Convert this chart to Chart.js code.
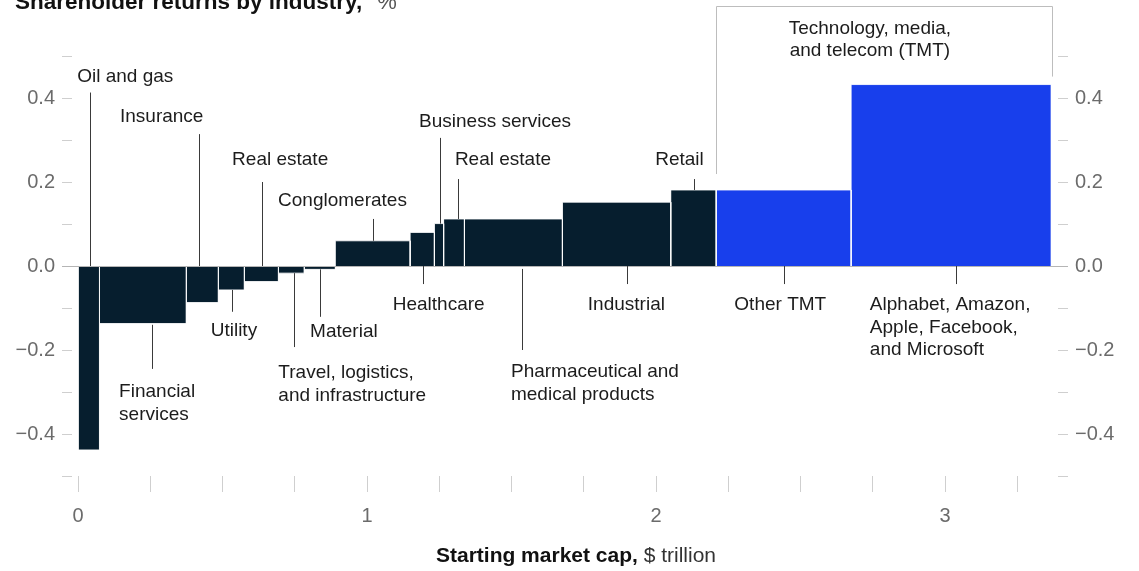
<!DOCTYPE html>
<html><head><meta charset="utf-8">
<script src="https://cdn.jsdelivr.net/npm/chart.js@4/dist/chart.umd.min.js"></script>
<style>html,body{margin:0;padding:0;background:#fff;overflow:hidden}</style>
</head><body>
<canvas id="c" width="1139" height="571" style="display:block;width:1139px;height:571px"></canvas>
<script>
// ---- data ----
const industries = ["Oil and gas","Financial services","Insurance","Utility","Real estate","Travel, logistics, and infrastructure","Material","Conglomerates","Healthcare","Business services","Real estate","Pharmaceutical and medical products","Industrial","Retail","Other TMT","Alphabet, Amazon, Apple, Facebook, and Microsoft"];
const marketCap = [0.074,0.300,0.111,0.090,0.118,0.089,0.108,0.259,0.084,0.032,0.072,0.339,0.375,0.157,0.467,0.693];
const shareholderReturn = [-0.438,-0.137,-0.087,-0.057,-0.037,-0.017,-0.008,0.060,0.080,0.101,0.112,0.112,0.152,0.181,0.181,0.432];
const group = ["other","other","other","other","other","other","other","other","other","other","other","other","other","other","tmt","tmt"];
const yTickValues = [-0.4,-0.2,0,0.2,0.4];
const xTickValues = [0,1,2,3];
const groupLabel = ["Technology, media,","and telecom (TMT)"];

// ---- styles / layout (not data) ----
const COLORS = {other:"#061e2e", tmt:"#183fec"};
const FONT = "'Liberation Sans', Arial, sans-serif";
const labelLayout = [
  {i:0,  lines:["Oil and gas"], x:-0.003, y:0.45,  lead:[0.041,0.413,0]},
  {i:2,  lines:["Insurance"], x:0.145, y:0.355, lead:[0.42,0.314,0]},
  {i:4,  lines:["Real estate"], x:0.533, y:0.252, lead:[0.636,0.200,0]},
  {i:7,  lines:["Conglomerates"], x:0.692, y:0.155, lead:[1.021,0.112,0.060]},
  {i:9,  lines:["Business services"], x:1.18, y:0.343, lead:[1.254,0.305,0.101]},
  {i:10, lines:["Real estate"], x:1.304, y:0.252, lead:[1.315,0.207,0.112]},
  {i:13, lines:["Retail"], x:1.997, y:0.252, lead:[2.131,0.207,0.181]},
  {i:8,  lines:["Healthcare"], x:1.089, y:-0.093, lead:[1.193,-0.043,0]},
  {i:11, lines:["Pharmaceutical and","medical products"], x:1.498, y:-0.252, lead:[1.536,-0.200,-0.007]},
  {i:12, lines:["Industrial"], x:1.764, y:-0.093, lead:[1.9,-0.043,0]},
  {i:14, lines:["Other TMT"], x:2.271, y:-0.093, lead:[2.442,-0.043,0]},
  {i:15, lines:["Alphabet, Amazon,","Apple, Facebook,","and Microsoft"], x:2.74, y:-0.093, lead:[3.038,-0.043,0]},
  {i:1,  lines:["Financial","services"], x:0.142, y:-0.300, lead:[0.255,-0.245,-0.140]},
  {i:3,  lines:["Utility"], x:0.459, y:-0.154, lead:[0.533,-0.109,-0.057]},
  {i:5,  lines:["Travel, logistics,","and infrastructure"], x:0.693, y:-0.255, lead:[0.748,-0.193,-0.017]},
  {i:6,  lines:["Material"], x:0.803, y:-0.156, lead:[0.838,-0.121,-0.008]}
];
const bracket = {x0:2.209, y0:0.219, x1:3.369, y1:0.451, top:0.62, textX:2.74, textY:0.566};

// ---- build datasets ----
let start = 0;
const datasets = marketCap.map((w, i) => {
  const x0 = start, x1 = start + w; start = x1;
  const v = shareholderReturn[i];
  return {
    label: industries[i],
    data: [{x:x0,y:0},{x:x0,y:v},{x:x1,y:v},{x:x1,y:0}],
    showLine: true, fill: 'origin', tension: 0,
    backgroundColor: COLORS[group[i]], borderColor: 'rgba(255,255,255,0.85)', borderWidth: 1,
    pointRadius: 0, pointHoverRadius: 0
  };
});

const fmt = v => (v < 0 ? "\u2212" : "") + Math.abs(v).toFixed(1);
const yTickCb = v => { const m = yTickValues.find(t => Math.abs(t - v) < 1e-6); return m === undefined ? '' : fmt(m); };
const xTickCb = v => { const m = xTickValues.find(t => Math.abs(t - v) < 1e-6); return m === undefined ? '' : String(m); };

const yAxisCommon = {
  type:'linear', min:-0.5, max:0.5,
  ticks:{stepSize:0.1, callback:yTickCb, color:'#6b6b6b', font:{family:FONT,size:20}, padding:7, autoSkip:false},
  grid:{drawOnChartArea:false, drawTicks:true, tickLength:10, color:'#cfcfcf', lineWidth:1},
  border:{display:false}
};

const annot = {
  id:'annot',
  afterDatasetsDraw(chart){
    const {ctx, chartArea:ca, scales:{x, y}} = chart;
    const X = v => x.getPixelForValue(v), Y = v => y.getPixelForValue(v);
    ctx.save();
    // zero line
    ctx.strokeStyle = '#b5b5b5'; ctx.lineWidth = 1;
    ctx.beginPath(); ctx.moveTo(ca.left - 10, Math.round(Y(0)) + 0.5); ctx.lineTo(ca.right + 10, Math.round(Y(0)) + 0.5); ctx.stroke();
    // leader lines + labels
    ctx.font = `19px ${FONT}`; ctx.fillStyle = '#1c1c1c'; ctx.textBaseline = 'middle'; ctx.textAlign = 'left';
    labelLayout.forEach(l => {
      ctx.strokeStyle = '#3a3a3a'; ctx.lineWidth = 1;
      const lx = Math.round(X(l.lead[0])) + 0.5;
      ctx.beginPath(); ctx.moveTo(lx, Y(l.lead[1])); ctx.lineTo(lx, Y(l.lead[2])); ctx.stroke();
      l.lines.forEach((t, k) => ctx.fillText(t, X(l.x), Y(l.y) + k * 22.5));
    });
    // TMT bracket
    ctx.strokeStyle = '#bdbdbd'; ctx.lineWidth = 1;
    const bx0 = Math.round(X(bracket.x0)) + 0.5, bx1 = Math.round(X(bracket.x1)) + 0.5, bt = Math.round(Y(bracket.top)) + 0.5;
    ctx.beginPath(); ctx.moveTo(bx0, Y(bracket.y0)); ctx.lineTo(bx0, bt); ctx.lineTo(bx1, bt); ctx.lineTo(bx1, Y(bracket.y1)); ctx.stroke();
    ctx.textAlign = 'center'; ctx.fillStyle = '#1c1c1c';
    groupLabel.forEach((t, k) => ctx.fillText(t, X(bracket.textX), Y(bracket.textY) + k * 22));
    // title
    ctx.textAlign = 'left'; ctx.textBaseline = 'alphabetic';
    ctx.font = `bold 22.5px ${FONT}`; ctx.fillStyle = '#111';
    const t1 = 'Shareholder returns by industry,';
    ctx.fillText(t1, 15, 9);
    const w1 = ctx.measureText(t1).width;
    ctx.font = `22px ${FONT}`; ctx.fillStyle = '#555';
    ctx.fillText('%', 15 + w1 + 15, 9);
    // x axis title
    ctx.textBaseline = 'middle';
    const a = 'Starting market cap,', b = ' $ trillion';
    ctx.font = `bold 21px ${FONT}`; const wa = ctx.measureText(a).width;
    ctx.font = `21px ${FONT}`; const wb = ctx.measureText(b).width;
    const sx = 576 - (wa + wb) / 2;
    ctx.font = `bold 21px ${FONT}`; ctx.fillStyle = '#111'; ctx.fillText(a, sx, 556);
    ctx.font = `21px ${FONT}`; ctx.fillStyle = '#333'; ctx.fillText(b, sx + wa, 556);
    ctx.restore();
  }
};

new Chart(document.getElementById('c'), {
  type:'scatter',
  data:{datasets},
  options:{
    responsive:false, animation:false, devicePixelRatio:1,
    layout:{padding:{top:56,left:0,right:0,bottom:0}},
    plugins:{legend:{display:false}, tooltip:{enabled:false}},
    scales:{
      x:{type:'linear', position:'bottom', min:-0.021, max:3.391,
         ticks:{stepSize:0.25, includeBounds:false, callback:xTickCb, color:'#6b6b6b', font:{family:FONT,size:20}, padding:12, maxRotation:0, autoSkip:false},
         grid:{drawOnChartArea:false, drawTicks:true, tickLength:16, color:'#cfcfcf', lineWidth:1},
         border:{display:false},
         afterFit(s){ s.height = 95; }},
      y:{...yAxisCommon, position:'left', afterFit(s){ s.width = 72; }},
      y2:{...yAxisCommon, position:'right', afterFit(s){ s.width = 81; }}
    }
  },
  plugins:[annot]
});
</script>
</body></html>
